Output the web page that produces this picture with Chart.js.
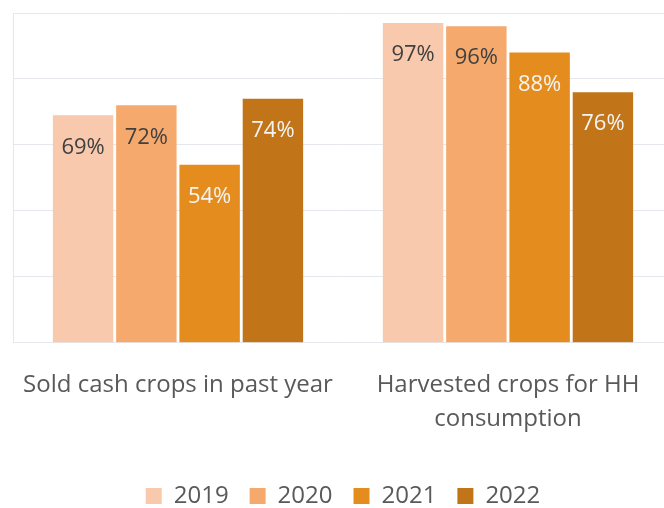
<!DOCTYPE html>
<html>
<head>
<meta charset="utf-8">
<script src="https://cdn.jsdelivr.net/npm/chart.js@4"></script>
<style>
  html, body { margin: 0; padding: 0; background: #fff; overflow: hidden; width: 664px; height: 508px; }
  #wrap { position: absolute; left: -10px; top: 0; width: 714px; height: 518px; }
</style>
</head>
<body>
<div id="wrap"><canvas id="myChart"></canvas></div>
<script>
const categories = [['Sold cash crops in past year'], ['Harvested crops for HH', 'consumption']];
const years = ['2019', '2020', '2021', '2022'];
const values2019 = [69, 97];
const values2020 = [72, 96];
const values2021 = [54, 88];
const values2022 = [74, 76];
const yTicks = [0, 20, 40, 60, 80, 100];

const colors = ['#F8C9AD', '#F5A96D', '#E58C1E', '#C17418'];
const labelColors = ['#404040', '#404040', '#F4F4F4', '#F4F4F4'];
const series = [values2019, values2020, values2021, values2022];

const ctx = document.getElementById('myChart');

// draws the percent labels inside the top of each bar
const barLabels = {
  id: 'barLabels',
  afterDatasetsDraw(chart) {
    const c = chart.ctx;
    c.save();
    c.font = '22px "Open Sans"';
    c.textAlign = 'center';
    c.textBaseline = 'middle';
    chart.data.datasets.forEach((ds, i) => {
      const meta = chart.getDatasetMeta(i);
      meta.data.forEach((bar, j) => {
        c.fillStyle = labelColors[i];
        c.fillText(ds.data[j] + '%', bar.x, bar.y + 32);
      });
    });
    c.restore();
  }
};

new Chart(ctx, {
  type: 'bar',
  data: {
    labels: categories,
    datasets: years.map((y, i) => ({
      label: y,
      data: series[i],
      backgroundColor: colors[i],
      borderWidth: 0,
      barPercentage: 0.955,
      categoryPercentage: 0.767
    }))
  },
  options: {
    responsive: true,
    maintainAspectRatio: false,
    animation: false,
    layout: { padding: { left: 23, right: 31, top: 13, bottom: 0 } },
    scales: {
      x: {
        grid: { display: false },
        border: { display: false },
        afterFit: scale => { scale.height += 10; },
        ticks: {
          color: '#595959',
          padding: 17,
          font: { family: 'Open Sans', size: 24, lineHeight: 1.42 }
        }
      },
      y: {
        min: 0,
        max: 100,
        afterBuildTicks: axis => { axis.ticks = yTicks.map(v => ({ value: v })); },
        ticks: { display: false },
        grid: { color: '#E4E7EC', lineWidth: 1, drawTicks: false },
        border: { display: true, color: '#E4E7EC' }
      }
    },
    plugins: {
      legend: {
        position: 'bottom',
        labels: {
          color: '#595959',
          boxWidth: 16,
          boxHeight: 16,
          padding: 21,
          font: { family: 'Open Sans', size: 24 }
        }
      },
      tooltip: { enabled: false }
    }
  },
  plugins: [barLabels]
});
</script>
</body>
</html>
